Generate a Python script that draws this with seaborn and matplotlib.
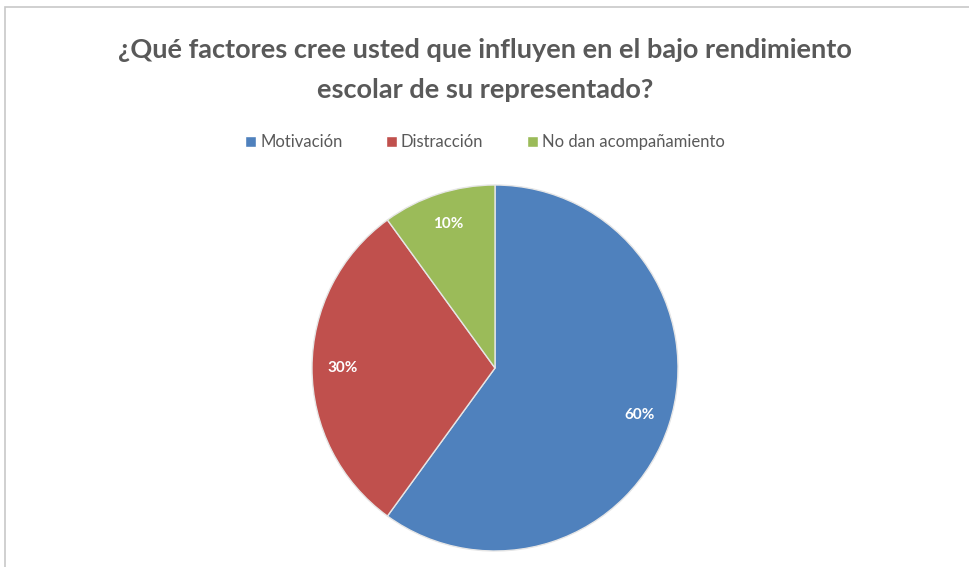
import matplotlib.pyplot as plt
import seaborn as sns
from matplotlib.patches import Rectangle

sns.set_style("white")
plt.rcParams['font.family'] = ['Lato', 'DejaVu Sans']

# Data
categories = ['Motivación', 'Distracción', 'No dan acompañamiento']
values = [60, 30, 10]
colors = sns.color_palette(['#4F81BD', '#C0504D', '#9BBB59'])
title = '¿Qué factores cree usted que influyen en el bajo rendimiento\nescolar de su representado?'

W, H = 970, 567
fig = plt.figure(figsize=(W / 100, H / 100), dpi=100)

# chart frame (gray border at top/left)
fig.patches.append(Rectangle((5 / W, -0.05), 1.2, 1 - 7 / H + 0.05,
                             transform=fig.transFigure, fill=False,
                             edgecolor='#c8c8c8', linewidth=1.2))

cx, cy, r = 495, 368, 183
ax = fig.add_axes([(cx - r) / W, (H - cy - r) / H, 2 * r / W, 2 * r / H])
wedges, texts, autotexts = ax.pie(
    values, colors=colors, startangle=90, counterclock=False,
    autopct='%d%%', pctdistance=0.83,
    wedgeprops=dict(edgecolor='#e6e6e6', linewidth=1.0),
    textprops=dict(color='white', fontsize=11, fontweight='bold'))
ax.set_aspect('equal')
ax.set_xlim(-1, 1)
ax.set_ylim(-1, 1)
ax.axis('off')

fig.text(0.5, 1 - 70 / H, title, ha='center', va='center', fontsize=19.5,
         fontweight='bold', color='#595959', linespacing=1.75)

handles = [Rectangle((0, 0), 1, 1, facecolor=c) for c in colors]
fig.legend(handles, categories, loc='center', bbox_to_anchor=(0.5, 1 - 142 / H),
           ncol=3, frameon=False, fontsize=12, labelcolor='#595959',
           handlelength=0.65, handleheight=0.65, handletextpad=0.25, columnspacing=2.6)

plt.savefig('out.png', dpi=100)
